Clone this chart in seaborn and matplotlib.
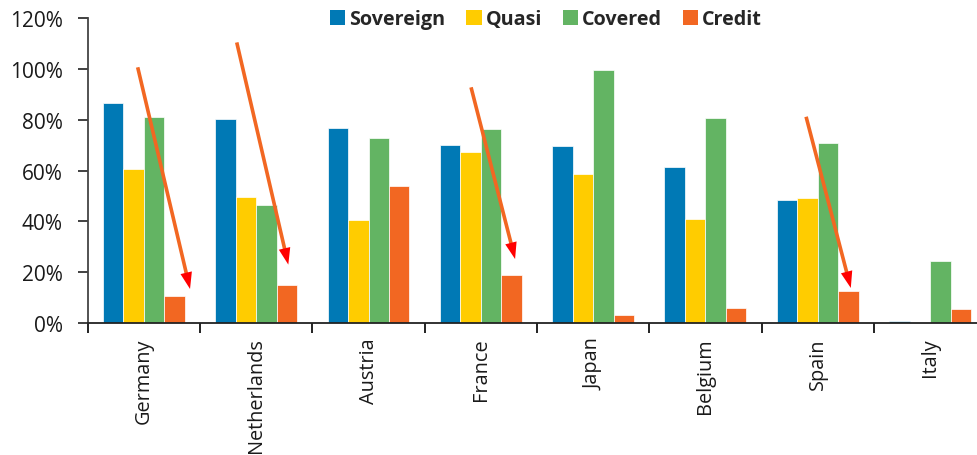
import numpy as np
import pandas as pd
import matplotlib
matplotlib.use("Agg")
import matplotlib.pyplot as plt
from matplotlib.patches import Patch
from matplotlib.ticker import FuncFormatter
import seaborn as sns

# ---- data ----
countries = ["Germany", "Netherlands", "Austria", "France", "Japan", "Belgium", "Spain", "Italy"]
series_names = ["Sovereign", "Quasi", "Covered", "Credit"]
sovereign = [86.7, 80.2, 76.8, 70.0, 69.8, 61.4, 48.4, 0.8]
quasi = [60.5, 49.4, 40.4, 67.5, 58.6, 40.9, 49.2, 0.0]
covered = [81.1, 46.3, 72.8, 76.3, 99.6, 80.6, 70.9, 24.4]
credit = [10.6, 14.7, 53.9, 18.8, 3.2, 5.8, 12.4, 5.5]
yticks = [0, 20, 40, 60, 80, 100, 120]
# arrow annotations (start -> tip), in data coords (category index, %)
arrow_starts = [(-0.055, 100.7), (0.827, 110.5), (2.913, 92.8), (5.896, 81.2)]
arrow_tips = [(0.411, 13.3), (1.286, 22.9), (3.305, 25.1), (6.294, 13.7)]

colors = ["#0079B5", "#FFCC00", "#63B463", "#F26722"]

rows = []
for name, vals in zip(series_names, [sovereign, quasi, covered, credit]):
    for c, v in zip(countries, vals):
        rows.append({"country": c, "type": name, "value": v})
df = pd.DataFrame(rows)

sns.set_theme(style="white")
plt.rcParams["font.family"] = ["Open Sans", "DejaVu Sans"]

fig = plt.figure(figsize=(9.77, 4.56), dpi=100)
ax = fig.add_axes([0.08977, 0.2901, 0.9197, 0.6675])

sns.barplot(data=df, x="country", y="value", hue="type", order=countries,
            hue_order=series_names, palette=colors, width=0.73, saturation=1,
            edgecolor="white", linewidth=0.5, legend=False, ax=ax)

ax.set_xlim(-0.5, len(countries) - 0.5)
ax.set_ylim(0, 120)
ax.set_xlabel("")
ax.set_ylabel("")

# y axis
ax.set_yticks(yticks)
ax.yaxis.set_major_formatter(FuncFormatter(lambda v, p: f"{int(v)}%"))
ax.tick_params(axis="y", which="major", direction="out", length=7, width=1.3,
               color="#333333", labelsize=15, pad=11, labelcolor="#1a1a1a", left=True)

# x axis: ticks at category boundaries, labels at centres
centers = np.arange(len(countries))
bounds = np.arange(len(countries) + 1) - 0.5
ax.set_xticks(bounds)
ax.set_xticklabels([""] * len(bounds))
ax.set_xticks(centers, minor=True)
ax.set_xticklabels(countries, minor=True, rotation=90, va="top", ha="center")
ax.tick_params(axis="x", which="major", direction="out", length=7, width=1.3,
               color="#111111", bottom=True)
ax.tick_params(axis="x", which="minor", length=0, labelsize=14.3, pad=10.5,
               labelcolor="#1a1a1a", bottom=True)

for s in ["top", "right"]:
    ax.spines[s].set_visible(False)
ax.spines["left"].set_color("#444444")
ax.spines["left"].set_linewidth(1.3)
ax.spines["bottom"].set_color("#222222")
ax.spines["bottom"].set_linewidth(1.3)
ax.spines["bottom"].set_zorder(5)

# arrows: orange shaft with red head
fig.canvas.draw()
head_len_px = 16.5
for (x0, y0), (x1, y1) in zip(arrow_starts, arrow_tips):
    p0 = ax.transData.transform((x0, y0))
    p1 = ax.transData.transform((x1, y1))
    L = np.hypot(*(p1 - p0))
    f = 1 - (head_len_px - 1.5) / L
    pb = p0 + (p1 - p0) * f
    xb, yb = ax.transData.inverted().transform(pb)
    ax.plot([x0, xb], [y0, yb], color="#F26722", lw=2.6, solid_capstyle="butt", zorder=6)
    fb = 1 - head_len_px / L
    pb2 = p0 + (p1 - p0) * fb
    xb2, yb2 = ax.transData.inverted().transform(pb2)
    ax.annotate("", xy=(x1, y1), xytext=(xb2, yb2),
                arrowprops=dict(arrowstyle="-|>,head_length=12,head_width=4.2",
                                mutation_scale=1, color="#FF0000", lw=0,
                                shrinkA=0, shrinkB=0), zorder=7)

# legend
handles = [Patch(facecolor=c, edgecolor="none") for c in colors]
leg = fig.legend(handles, series_names, loc="center", bbox_to_anchor=(546 / 977, 1 - 20 / 456),
                 ncol=4, frameon=False, handlelength=0.78, handleheight=0.78,
                 handletextpad=0.2, columnspacing=1.05, borderaxespad=0,
                 prop={"family": ["Open Sans", "DejaVu Sans"], "weight": "bold", "size": 14.2})

fig.savefig("out.png", dpi=100)
